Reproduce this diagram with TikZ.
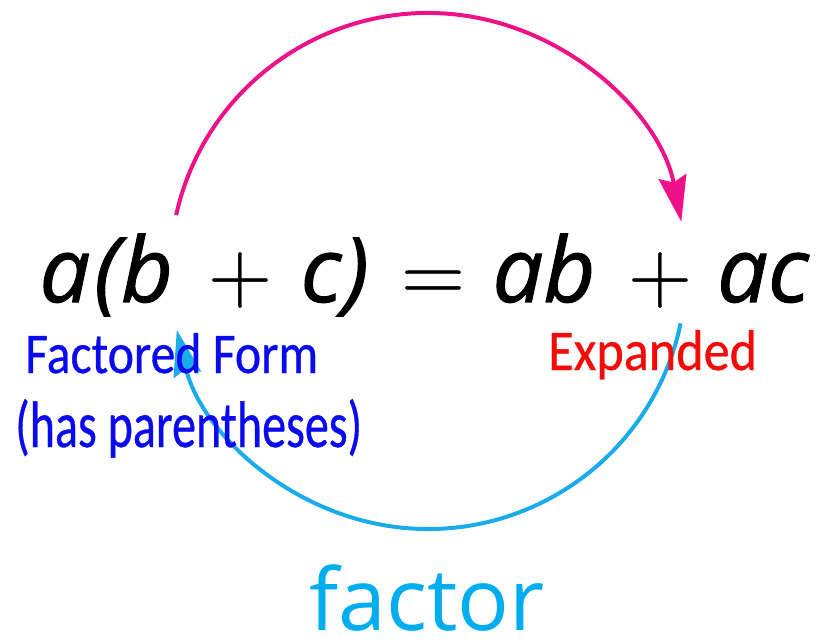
\documentclass[tikz,border=0pt]{standalone}
\usepackage{fontspec}
\setmainfont{Open Sans}
\newfontfamily\eqfont[FakeBold=1.2]{Open Sans}
\newfontfamily\handfont[FakeBold=0.6]{Carlito}
\newfontfamily\opfont[FakeBold=0.5]{Latin Modern Roman}
\usetikzlibrary{arrows.meta,calc}
\definecolor{arcpink}{HTML}{EE1188}
\definecolor{arccyan}{HTML}{1AACEA}
\definecolor{factorcyan}{HTML}{00AEEF}
\definecolor{handblue}{HTML}{0A0AEE}
\definecolor{handred}{HTML}{F50A0A}
\begin{document}
\begin{tikzpicture}[x=1pt,y=1pt,
  glyph/.style={inner sep=0pt,anchor=base,font=\eqfont\fontsize{90}{90}\selectfont\itshape},
  op/.style={inner sep=0pt,anchor=base,font=\opfont\fontsize{88}{88}\selectfont},
  hand/.style={inner sep=0pt,anchor=base west,font=\handfont\fontsize{60}{60}\selectfont},
  arcline/.style={line width=4pt,-{Stealth[length=46pt,width=28pt,inset=6pt]}}]
\useasboundingbox (0,0) rectangle (817,641);
\coordinate (O) at (428,370);
\coordinate (ps) at ($(O)+(167.5:258)$);
\coordinate (bs) at ($(O)+(-11.7:258)$);
\draw[arcline,arcpink] (ps) arc[start angle=167.5,end angle=11,radius=258];
\draw[arcline,arccyan] (bs) arc[start angle=-11.7,end angle=-166.8,radius=258];
% equation
\node[glyph] (ga) at (65,339) {a};
\node[glyph] (glp) at (107,339) {(};
\node[glyph] (gb) at (147,339) {b};
\node[op] (plusA) at (240,339) {+};
\node[glyph] (gc) at (321,339) {c};
\node[glyph] (grp) at (356,339) {)};
\node[op] (equal) at (433,339) {=};
\node[glyph] (gab) at (544,339) {ab};
\node[op] (plusB) at (660,339) {+};
\node[glyph] (gac) at (763,339) {ac};
% label
\node[inner sep=0pt,anchor=base,text=factorcyan,font=\fontsize{86}{86}\selectfont] (factor) at (427,11) {factor};
% handwriting
\node[hand,text=handblue] (ff) at (25,268) {\resizebox{293pt}{40pt}{Factored Form}};
\node[hand,text=handblue] (hp) at (15,194) {\resizebox{347pt}{48pt}{(has parentheses)}};
\node[hand,text=handred] (ex) at (548,271) {\resizebox{209pt}{40pt}{Expanded}};
\end{tikzpicture}
\end{document}
